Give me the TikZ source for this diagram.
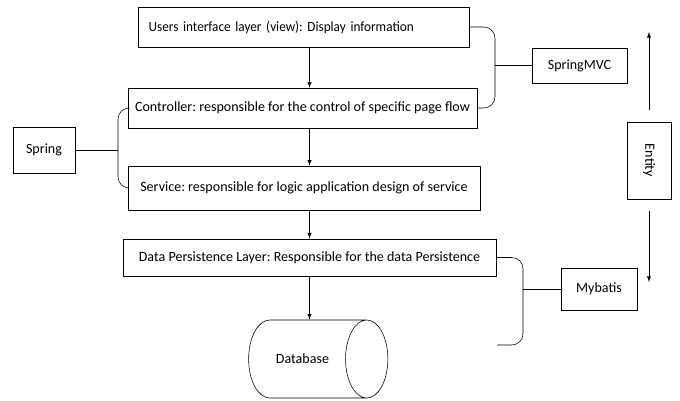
\documentclass[tikz,border=0pt]{standalone}
\usepackage{fontspec}
\setmainfont{Carlito}
\usetikzlibrary{shapes.geometric}
\begin{document}
\frenchspacing
\begin{tikzpicture}[x=0.025cm, y=-0.025cm, >=latex,
  font=\fontsize{10}{12}\selectfont,
  layer/.style = {draw, rectangle, minimum height=1cm, inner sep=2pt},
  tool/.style = {draw, rectangle, inner sep=2pt}]
\useasboundingbox (0,0) rectangle (680,401);
% layers
\node (view) at (303.5,27) [layer, minimum width=8.28cm, text width=7.74cm, align=left, inner xsep=0.27cm, font=\fontsize{10}{12}\selectfont\addfontfeatures{FakeStretch=0.94}] {Users interface layer (view): Display information};
\node (ctrl) at (302.5,108) [layer, minimum width=8.73cm] {Controller: responsible for the control of specific page flow};
\node (service) at (304,188) [layer, minimum width=8.8cm, minimum height=1.1cm] {Service: responsible for logic application design of service};
\node (dpl) at (309.5,257.5) [layer, minimum width=9.33cm, minimum height=0.93cm] {Data Persistence Layer: Responsible for the data Persistence};
\node (db) at (302.5,359) [draw, shape=cylinder, minimum width=1.95cm, minimum height=3.48cm, aspect=2.2] {Database};
% frameworks
\node (spring) at (44,150) [tool, minimum width=1.55cm, minimum height=1.15cm] {Spring};
\node (springmvc) at (579.5,65.5) [tool, minimum width=2.38cm, minimum height=0.88cm] {SpringMVC};
\node (mybatis) at (599,289) [tool, minimum width=1.9cm, minimum height=1.05cm] {Mybatis};
\node (entity) at (649,160.5) [tool, rotate=-90, minimum width=1.93cm, minimum height=1.1cm] {Entity};
\coordinate (mvcbrace) at (495,63);
\coordinate (springbrace) at (118,150);
\coordinate (mybbrace) at (523,292);
\coordinate (mybend) at (497,345);
\coordinate (entup) at (649,32);
\coordinate (entdown) at (649,282);
% flow
\draw[->] (view.south -| dpl) -- (ctrl.north -| dpl);
\draw[->] (ctrl.south -| dpl) -- (service.north -| dpl);
\draw[->] (service.south -| dpl) -- (dpl.north);
\draw[->] (dpl.south) -- (db.north -| dpl);
% braces
\draw[rounded corners=8pt] (view.east) -- (view.east -| mvcbrace) -- (ctrl.east -| mvcbrace) -- (ctrl.east);
\draw (springmvc.west -| mvcbrace) -- (springmvc.west);
\draw[rounded corners=8pt] (ctrl.west) -- (ctrl.west -| springbrace) -- (service.west -| springbrace) -- (service.west);
\draw (spring.east) -- (spring.east -| springbrace);
\draw[rounded corners=8pt] (dpl.east) -- (dpl.east -| mybbrace) -- (mybend -| mybbrace) -- (mybend);
\draw (mybatis.west -| mybbrace) -- (mybatis.west);
% entity
\draw[->, shorten <=8pt] (entity) -- (entup);
\draw[->, shorten <=8pt] (entity) -- (entdown);
\end{tikzpicture}
\end{document}
